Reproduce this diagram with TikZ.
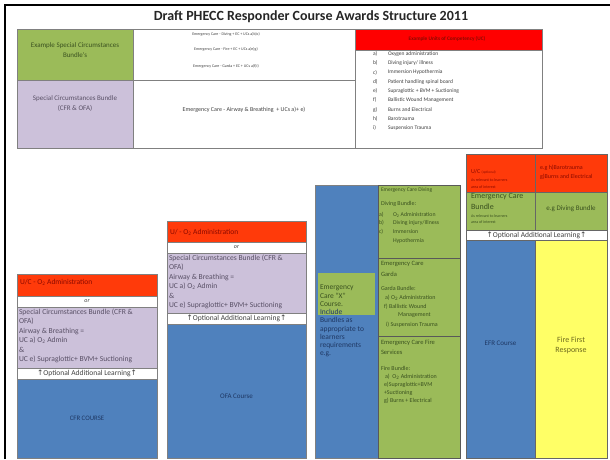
\documentclass[tikz,border=0pt]{standalone}
\usepackage{fontspec}
\setmainfont{Carlito}
\newfontfamily\dejavu{DejaVu Sans}
\newcommand{\upar}{{\dejavu ↑}}
\newcommand{\fsz}[2]{\fontsize{#1}{#2}\selectfont}
\newcommand{\Otwo}{O\textsubscript{2}}
\definecolor{cgreen}{HTML}{9BBB59}
\definecolor{cpurple}{HTML}{CCC1DA}
\definecolor{cblue}{HTML}{4F81BD}
\definecolor{cyellow}{HTML}{FFFF66}
\definecolor{credA}{HTML}{FF0000}
\definecolor{credB}{HTML}{FF3A0A}
\definecolor{tred}{HTML}{8B0A00}
\definecolor{tpurple}{HTML}{595066}
\definecolor{tgreen}{HTML}{3B5220}
\definecolor{tblue}{HTML}{1F3864}
\definecolor{tyellow}{HTML}{6E6A1E}
\definecolor{tgray}{HTML}{404040}
\definecolor{bgray}{HTML}{808080}
\tikzset{
  cell/.style={draw=bgray, line width=0.6pt, inner sep=0pt, outer sep=0pt, anchor=north west},
  txt/.style={inner sep=0pt, outer sep=0pt},
}
\newcommand{\cellbox}[6]{\node[cell, fill=#6, minimum width=#4pt, minimum height=#5pt] (#1) at (#2,#3) {};}
\begin{document}
\begin{tikzpicture}[x=1pt,y=-1pt]
\useasboundingbox (0,0) rectangle (610,459);
\fill[white] (0,0) rectangle (610,459);
% frame
\draw[line width=2.5pt] (5,459) -- (5,5) -- (610,5);
% title
\node[txt, font=\bfseries\fsz{14}{16}, text=black!85] (title) at (311,17) {Draft PHECC Responder Course Awards Structure 2011};
% top table
\cellbox{tg}{17}{29}{116}{51}{cgreen}
\cellbox{tp}{17}{80}{116}{68}{cpurple}
\cellbox{tmA}{133}{29}{222}{51}{white}
\cellbox{tmB}{133}{80}{222}{68}{white}
\cellbox{tr}{355}{29}{187}{21}{credA}
\cellbox{tl}{355}{50}{187}{98}{white}
\node[txt, align=center, font=\fsz{7}{10}, text=tgreen] (tgt) at (75,50) {Example Special Circumstances\\Bundle's};
\node[txt, align=center, font=\fsz{7}{9.5}, text=tpurple] (tpt) at (75,103.5) {Special Circumstances Bundle\\(CFR \& OFA)};
\node[txt, font=\fsz{4}{5}, text=tgray] (m1) at (226,34) {Emergency Care - Diving + EC + UCs a)b)c)};
\node[txt, font=\fsz{4}{5}, text=tgray] (m2) at (226,49) {Emergency Care - Fire + EC + UCs a)e)g)};
\node[txt, font=\fsz{4}{5}, text=tgray] (m3) at (226,66) {Emergency Care - Garda + EC + UCs a)f)i)};
\node[txt, font=\fsz{6}{7}, text=tgray] (m4) at (244,110) {Emergency Care - Airway \& Breathing\ \ + UCs a)+ e)};
\node[txt, font=\bfseries\fsz{5.3}{6}, text=tred] (trt) at (447,39) {Example Units of Competency (UC)};
\foreach \l/\t [count=\i from 0] in {a)/{Oxygen administration}, b)/{Diving injury/ illness}, c)/{Immersion Hypothermia}, d)/{Patient handling spinal board}, e)/{Supraglottic + BVM + Suctioning}, f)/{Ballistic Wound Management}, g)/{Burns and Electrical}, h)/{Barotrauma}, i)/{Suspension Trauma}}{
  \node[txt, anchor=west, font=\fsz{5.5}{6}, text=tgray] (ll\i) at (373,{54+9.25*\i}) {\l};
  \node[txt, anchor=west, font=\fsz{5.5}{6}, text=tgray] (lt\i) at (388,{54+9.25*\i}) {\t};
}
% column 1 CFR
\cellbox{cAr}{17}{274}{140}{22}{credB}
\cellbox{cAo}{17}{296}{140}{11}{white}
\cellbox{cAp}{17}{307}{140}{61}{cpurple}
\cellbox{cAa}{17}{368}{140}{11}{white}
\cellbox{cAb}{17}{379}{140}{79}{cblue}
\node[txt, anchor=west, font=\fsz{7.5}{9}, text=tred] (cArt) at (20,282) {U/C - \Otwo{} Administration};
\node[txt, font=\itshape\fsz{6}{7}, text=tgray] (cAot) at (87,301.5) {or};
\node[txt, anchor=north west, align=left, font=\fsz{7.6}{9.4}, text=tpurple] (cApt) at (19,309) {Special Circumstances Bundle (CFR \&\\OFA)\\Airway \& Breathing =\\UC a) \Otwo{} Admin\\\&\\UC e) Supraglottic+ BVM+ Suctioning};
\node[txt, font=\fsz{7.5}{9}, text=tgray] (cAat) at (87,373.5) {\upar Optional Additional Learning\upar};
\node[txt, font=\fsz{6.8}{8}, text=tblue] (cAbt) at (87,418) {CFR COURSE};
% column 2 OFA
\cellbox{cBr}{167}{221}{139}{21}{credB}
\cellbox{cBo}{167}{242}{139}{11}{white}
\cellbox{cBp}{167}{253}{139}{60}{cpurple}
\cellbox{cBa}{167}{313}{139}{11}{white}
\cellbox{cBb}{167}{324}{139}{134}{cblue}
\node[txt, anchor=west, font=\fsz{7.5}{9}, text=tred] (cBrt) at (170,232) {U/ - \Otwo{} Administration};
\node[txt, font=\itshape\fsz{6}{7}, text=tgray] (cBot) at (236.5,247.5) {or};
\node[txt, anchor=north west, align=left, font=\fsz{7.6}{9.4}, text=tpurple] (cBpt) at (169,255) {Special Circumstances Bundle (CFR \&\\OFA)\\Airway \& Breathing =\\UC a) \Otwo{} Admin\\\&\\UC e) Supraglottic+ BVM+ Suctioning};
\node[txt, font=\fsz{7.5}{9}, text=tgray] (cBat) at (236.5,318.5) {\upar Optional Additional Learning\upar};
\node[txt, font=\fsz{7}{8}, text=tblue] (cBbt) at (236.5,396) {OFA Course};
% column 3 X course
\cellbox{cCb}{315}{185}{63}{273}{cblue}
\node[cell, draw=none, fill=cgreen, minimum width=57pt, minimum height=42pt] (cCg) at (318,273) {};
\node[txt, anchor=north west, align=left, font=\fsz{7.5}{8.25}] (cCt) at (320,285) {\textcolor{tgreen}{Emergency}\\\textcolor{tgreen}{Care “X”}\\\textcolor{tgreen}{Course.}\\\textcolor{tblue}{Include}\\\textcolor{tblue}{Bundles as}\\\textcolor{tblue}{appropriate to}\\\textcolor{tblue}{learners}\\\textcolor{tblue}{requirements}\\\textcolor{tblue}{e.g.}};
\tikzset{sec/.style={cell, draw=black!65, fill=cgreen, minimum width=82pt}}
\node[sec, minimum height=73pt] (cS1) at (378,185) {};
\node[sec, minimum height=78pt] (cS2) at (378,258) {};
\node[sec, minimum height=122pt] (cS3) at (378,336) {};
\begin{scope}[every node/.style={txt, anchor=west, text=tgreen}]
\node[font=\fsz{5.5}{6}] (s1a) at (381,190) {Emergency Care Diving};
\node[font=\fsz{6}{7}] (s1b) at (381,204) {Diving Bundle:};
\node[font=\fsz{5.8}{7}] (s1c) at (379,215) {a)};
\node[font=\fsz{5.8}{7}] (s1d) at (379,223) {b)};
\node[font=\fsz{5.8}{7}] (s1e) at (379,232) {c)};
\node[font=\fsz{5.8}{7}] (s1f) at (393,215) {\Otwo{} Administration};
\node[font=\fsz{5.8}{7}] (s1g) at (393,223) {Diving injury/Illness};
\node[font=\fsz{5.8}{7}] (s1h) at (393,232) {Immersion};
\node[font=\fsz{5.8}{7}] (s1i) at (393,241) {Hypothermia};
\node[font=\fsz{6.5}{7}] (s2a) at (381,264) {Emergency Care};
\node[font=\fsz{6.5}{7}] (s2b) at (381,274) {Garda};
\node[font=\fsz{6}{7}] (s2c) at (381,288) {Garda Bundle:};
\node[font=\fsz{6}{7}] (s2d) at (385,298) {a) \Otwo{} Administration};
\node[font=\fsz{6}{7}] (s2e) at (384,307) {f) Ballistic Wound};
\node[font=\fsz{6}{7}] (s2f) at (398,315) {Management};
\node[font=\fsz{6}{7}] (s2g) at (386,325) {i) Suspension Trauma};
\node[font=\fsz{6.5}{7}] (s3a) at (381,343) {Emergency Care Fire};
\node[font=\fsz{6.5}{7}] (s3b) at (381,352) {Services};
\node[font=\fsz{6}{7}] (s3c) at (381,368) {Fire Bundle:};
\node[font=\fsz{6}{7}] (s3d) at (385,377) {a)\ \ \Otwo{} Administration};
\node[font=\fsz{6}{7}] (s3e) at (384,385) {e)Supraglottic+BVM};
\node[font=\fsz{6}{7}] (s3f) at (384,393) {+Suctioning};
\node[font=\fsz{6}{7}] (s3g) at (384,401) {g) Burns + Electrical};
\end{scope}
% column 4 EFR / Fire
\tikzset{cfour/.style={cell, draw=black!60}}
\node[cfour, fill=credB, minimum width=69pt, minimum height=38pt] (cDrA) at (466,154) {};
\node[cfour, fill=credB, minimum width=72pt, minimum height=38pt] (cDrB) at (535,154) {};
\node[cfour, fill=cgreen, minimum width=69pt, minimum height=38pt] (cDgA) at (466,192) {};
\node[cfour, fill=cgreen, minimum width=72pt, minimum height=38pt] (cDgB) at (535,192) {};
\node[cfour, fill=white, minimum width=141pt, minimum height=10pt] (cDo) at (466,230) {};
\node[cfour, fill=cblue, minimum width=69pt, minimum height=218pt] (cDb) at (466,240) {};
\node[cfour, fill=cyellow, minimum width=72pt, minimum height=218pt] (cDy) at (535,240) {};
\node[txt, anchor=west, font=\fsz{6}{7}, text=tred] (d1) at (471,172) {U/C \fsz{3.5}{4}(optional)};
\node[txt, anchor=west, font=\fsz{4}{5}, text=tred] (d2) at (471,180) {As relevant to learners};
\node[txt, anchor=west, font=\fsz{4}{5}, text=tred] (d3) at (471,187) {area of interest};
\node[txt, anchor=west, font=\fsz{6}{7}, text=tred] (d4) at (540,168) {e.g h)Barotrauma};
\node[txt, anchor=west, font=\fsz{6}{7}, text=tred] (d5) at (540,177) {g)Burns and Electrical};
\node[txt, anchor=west, font=\fsz{8}{9}, text=tgreen] (d6) at (471,197) {Emergency Care};
\node[txt, anchor=west, font=\fsz{8}{9}, text=tgreen] (d7) at (471,207) {Bundle};
\node[txt, anchor=west, font=\fsz{4}{5}, text=tgreen] (d8) at (471,216) {As relevant to learners};
\node[txt, anchor=west, font=\fsz{4}{5}, text=tgreen] (d9) at (471,222.5) {area of interest};
\node[txt, font=\fsz{7}{8}, text=tgreen] (d10) at (571,209) {e.g Diving Bundle};
\node[txt, font=\fsz{7.5}{9}, text=tgray] (d11) at (536.5,235) {\upar Optional Additional Learning\upar};
\node[txt, font=\fsz{7}{8}, text=tblue] (d12) at (500.5,343) {EFR Course};
\node[txt, align=center, font=\fsz{8}{10.5}, text=tyellow] (d13) at (571,345.5) {Fire First\\Response};
\end{tikzpicture}
\end{document}
